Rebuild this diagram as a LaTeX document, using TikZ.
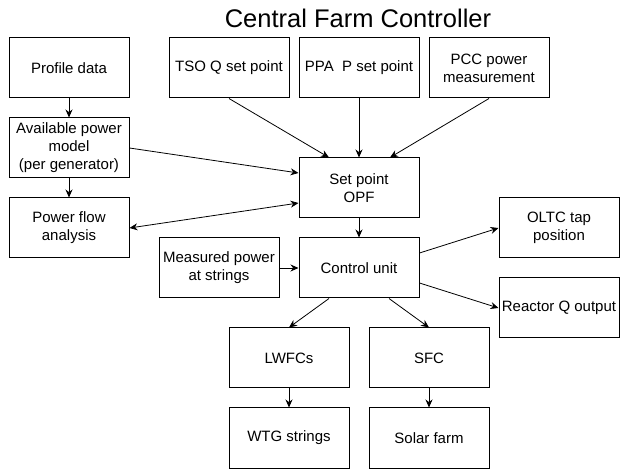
\documentclass[tikz,border=0pt]{standalone}
\usepackage{fontspec}
\setmainfont{Liberation Sans}
\usetikzlibrary{arrows.meta,calc}
\begin{document}
\begin{tikzpicture}[x=1pt,y=-1pt,
  box/.style={draw,line width=1pt,minimum width=120pt,minimum height=60pt,inner sep=1pt,align=center,font=\fontsize{15}{18}\selectfont},
  arr/.style={line width=0.8pt,-{Stealth[length=8pt,width=7pt]}},
  barr/.style={line width=0.8pt,{Stealth[length=8pt,width=7pt]}-{Stealth[length=8pt,width=7pt]}}]
\useasboundingbox (0,0) rectangle (625,476);
\node[font=\fontsize{25.5}{28}\selectfont] (title) at (358,18) {Central Farm Controller};
\node[box] (prof) at (69,68) {Profile data};
\node[box] (avail) at (69,148) {Available power\\model\\(per generator)};
\node[box] (pfa) at (69,228) {Power flow\\analysis};
\node[box] (tso) at (229,68) {TSO Q set point};
\node[box] (ppa) at (359,68) {PPA\ \ P set point};
\node[box] (pcc) at (489,68) {PCC power\\measurement};
\node[box] (opf) at (359,188) {Set point\\OPF};
\node[box] (meas) at (219,268) {Measured power\\at strings};
\node[box] (ctrl) at (359,268) {Control unit};
\node[box] (oltc) at (559,228) {OLTC tap\\position};
\node[box] (reac) at (559,308) {Reactor Q output};
\node[box] (lwfc) at (289,358) {LWFCs};
\node[box] (sfc) at (429,358) {SFC};
\node[box] (wtg) at (289,438) {WTG strings};
\node[box] (solar) at (429,438) {Solar farm};
\draw[arr] (prof) -- (avail);
\draw[arr] (avail) -- (pfa);
\draw[arr] (avail.east) -- ([yshift=15pt]opf.west);
\draw[barr] (pfa.east) -- ([yshift=-15pt]opf.west);
\draw[arr] (tso.south) -- ([xshift=-30pt]opf.north);
\draw[arr] (ppa) -- (opf);
\draw[arr] (pcc.south) -- ([xshift=31pt]opf.north);
\draw[arr] (opf) -- (ctrl);
\draw[arr] (meas) -- (ctrl);
\draw[arr] ([yshift=15pt]ctrl.east) -- (oltc.west);
\draw[arr] ([yshift=-15pt]ctrl.east) -- (reac.west);
\draw[arr] ([xshift=-30pt]ctrl.south) -- (lwfc.north);
\draw[arr] ([xshift=30pt]ctrl.south) -- (sfc.north);
\draw[arr] (lwfc) -- (wtg);
\draw[arr] (sfc) -- (solar);
\end{tikzpicture}
\end{document}
